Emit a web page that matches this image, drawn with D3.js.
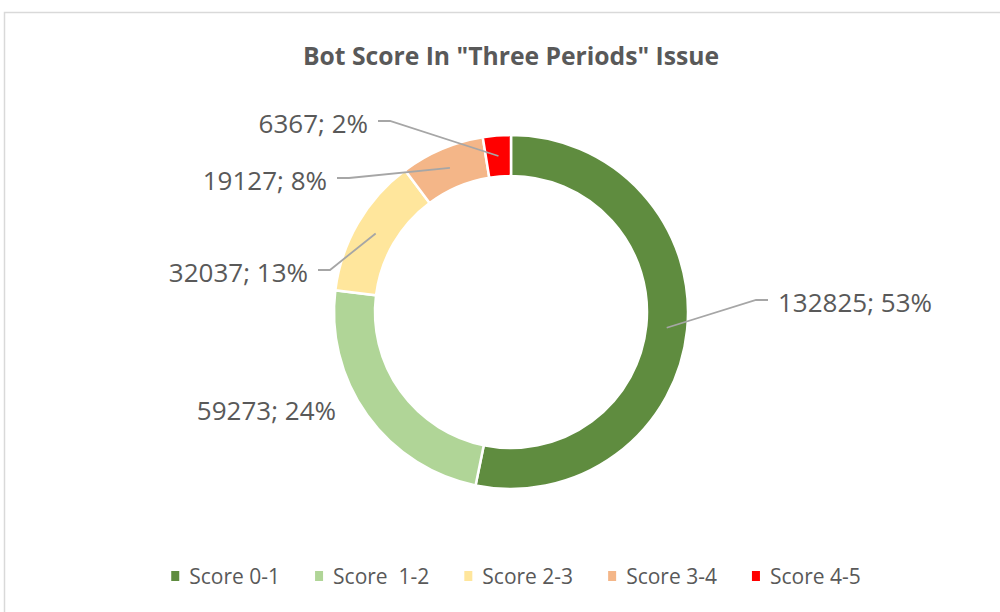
<!DOCTYPE html>
<html>
<head>
<meta charset="utf-8">
<script src="https://cdn.jsdelivr.net/npm/d3@7"></script>
<style>
  body { margin: 0; background: #fff; }
  svg text { font-family: "Open Sans", "Liberation Sans", sans-serif; fill: #595959; }
</style>
</head>
<body>
<div id="chart"></div>
<script>
// data
var categories = ["Score 0-1", "Score  1-2", "Score 2-3", "Score 3-4", "Score 4-5"];
var counts = [132825, 59273, 32037, 19127, 6367];
var percents = [53, 24, 13, 8, 2];
var colors = ["#5f8c3f", "#b0d597", "#ffe69c", "#f4b688", "#ff0000"];

// label placement (Excel put them by hand), offsets from the donut centre
var labelPos = [
  {dx: 267, dy: -10, anchor: "start", leader: true},
  {dx: -175, dy: 98, anchor: "end", leader: false},
  {dx: -203, dy: -40, anchor: "end", leader: true},
  {dx: -184, dy: -132, anchor: "end", leader: true},
  {dx: -143, dy: -189, anchor: "end", leader: true}
];

var width = 1000, height = 612;
var cx = 511, cy = 312, outerR = 177, innerR = 136;

var svg = d3.select("#chart").append("svg")
    .attr("width", width)
    .attr("height", height);

// chart frame
svg.append("rect")
    .attr("x", 4.5).attr("y", 12.5)
    .attr("width", 1010).attr("height", 620)
    .attr("fill", "#fff")
    .attr("stroke", "#d9d9d9")
    .attr("stroke-width", 1.5);

svg.append("text")
    .attr("x", 511).attr("y", 55)
    .attr("text-anchor", "middle")
    .attr("dominant-baseline", "central")
    .style("font-size", "24.7px")
    .style("font-weight", "bold")
    .text('Bot Score In "Three Periods" Issue');

var pie = d3.pie().sort(null).value(function(d) { return d; });
var arc = d3.arc().innerRadius(innerR).outerRadius(outerR);
var arcs = pie(counts);

var g = svg.append("g").attr("transform", "translate(" + cx + "," + cy + ")");

g.selectAll("path.slice")
  .data(arcs)
  .enter().append("path")
    .attr("class", "slice")
    .attr("d", arc)
    .attr("fill", function(d, i) { return colors[i]; })
    .attr("stroke", "#fff")
    .attr("stroke-width", 2.5);

// data labels + leader lines
var labels = g.selectAll("g.lbl")
  .data(arcs)
  .enter().append("g").attr("class", "lbl");

labels.append("text")
    .attr("x", function(d, i) { return labelPos[i].dx; })
    .attr("y", function(d, i) { return labelPos[i].dy; })
    .attr("text-anchor", function(d, i) { return labelPos[i].anchor; })
    .attr("dominant-baseline", "central")
    .style("font-size", "26px")
    .text(function(d, i) { return counts[i] + "; " + percents[i] + "%"; });

labels.each(function(d, i) {
  var p = labelPos[i];
  if (!p.leader) return;
  var c = arc.centroid(d);
  var sign = p.anchor === "start" ? -1 : 1;
  var x0 = p.dx + sign * 10, y0 = p.dy - 2;
  var pts = [[x0, y0], [x0 + sign * 12, y0], c];
  d3.select(this).append("path")
    .attr("d", d3.line()(pts))
    .attr("fill", "none")
    .attr("stroke", "#a6a6a6")
    .attr("stroke-width", 1.8);
});

// legend
var legend = svg.append("g");
var lx = 0, gap = 35;
categories.forEach(function(name, i) {
  var item = legend.append("g").attr("transform", "translate(" + lx + ",0)");
  item.append("rect")
      .attr("x", 0).attr("y", -5)
      .attr("width", 8).attr("height", 10)
      .attr("fill", colors[i]);
  var t = item.append("text")
      .attr("x", 18).attr("y", 0)
      .attr("dominant-baseline", "central")
      .style("font-size", "21px")
      .style("white-space", "pre")
      .text(name);
  lx += 18 + t.node().getComputedTextLength() + gap;
});
var legendW = lx - gap;
legend.attr("transform", "translate(" + (516 - legendW / 2) + ",576)");
</script>
</body>
</html>
